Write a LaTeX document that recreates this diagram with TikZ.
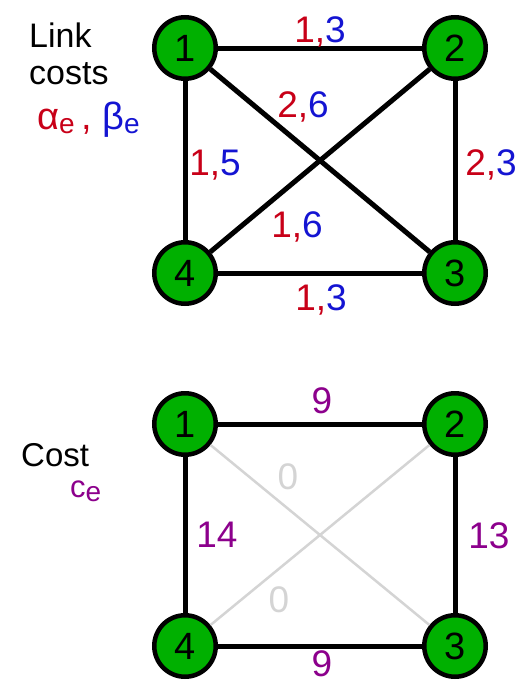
\documentclass[tikz,border=0pt]{standalone}
\usepackage{fontspec}
\setmainfont{Liberation Sans}
\usetikzlibrary{positioning}
\definecolor{alphared}{RGB}{200,0,24}
\definecolor{betablue}{RGB}{20,20,210}
\definecolor{costpurple}{RGB}{140,0,140}
\definecolor{nodegreen}{RGB}{0,176,0}
\definecolor{zerogray}{RGB}{212,212,212}
\newcommand{\albe}[2]{\textcolor{alphared}{#1,}\textcolor{betablue}{#2}}
\newcommand{\sube}{\raisebox{-4pt}{\fontsize{28}{28}\selectfont e}}

\begin{document}
\begin{tikzpicture}[
  x=1pt, y=-1pt,
  vertex/.style={circle, draw, fill=nodegreen, line width=4.5pt,
                 minimum size=61.5pt, inner sep=0pt,
                 font=\fontsize{38}{38}\selectfont},
  link/.style={line width=5pt},
  unused/.style={line width=2.5pt, draw=zerogray},
  lbl/.style={anchor=base, inner sep=0pt, font=\fontsize{37}{37}\selectfont},
  cost/.style={lbl, text=costpurple},
  legend/.style={anchor=base west, inner sep=0pt, font=\fontsize{34}{34}\selectfont}
]
  \useasboundingbox (0,0) rectangle (531,683);

  % link costs (alpha, beta)
  \node[vertex] (t1) at (185,48) {1};
  \node[vertex] (t2) at (455,48) {2};
  \node[vertex] (t3) at (455,273) {3};
  \node[vertex] (t4) at (185,273) {4};

  \draw[link] (t1) -- (t2);
  \draw[link] (t2) -- (t3);
  \draw[link] (t3) -- (t4);
  \draw[link] (t4) -- (t1);
  \draw[link] (t1) -- (t3);
  \draw[link] (t2) -- (t4);

  \node[lbl] (t12) at (320,42) {\albe{1}{3}};
  \node[lbl] (t13) at (303,117) {\albe{2}{6}};
  \node[lbl] (t14) at (215,175) {\albe{1}{5}};
  \node[lbl] (t23) at (491,175) {\albe{2}{3}};
  \node[lbl] (t24) at (297,237) {\albe{1}{6}};
  \node[lbl] (t34) at (321,310) {\albe{1}{3}};

  \node[legend] (link) at (29,47) {Link};
  \node[legend] (costs) at (29,84) {costs};
  \node[legend, font=\fontsize{38}{38}\selectfont] (ab) at (37,129)
    {\textcolor{alphared}{α\sube\,,}
     \textcolor{betablue}{β\sube}};

  % resulting cost c_e
  \node[vertex] (b1) at (185,424) {1};
  \node[vertex] (b2) at (455,424) {2};
  \node[vertex] (b3) at (455,646) {3};
  \node[vertex] (b4) at (185,646) {4};

  \draw[unused] (b1) -- (b3);
  \draw[unused] (b2) -- (b4);
  \draw[link] (b1) -- (b2);
  \draw[link] (b2) -- (b3);
  \draw[link] (b3) -- (b4);
  \draw[link] (b4) -- (b1);

  \node[cost] (b12) at (322,413) {9};
  \node[lbl, text=zerogray] (b13) at (288,489) {0};
  \node[cost] (b14) at (217,547) {14};
  \node[cost] (b23) at (489,548) {13};
  \node[lbl, text=zerogray] (b24) at (279,612) {0};
  \node[cost] (b34) at (322,676) {9};

  \node[legend, font=\fontsize{33}{33}\selectfont] (cost) at (21,466) {Cost};
  \node[legend, font=\fontsize{31}{31}\selectfont, text=costpurple] (ce) at (70,497)
    {c\sube};
\end{tikzpicture}
\end{document}
